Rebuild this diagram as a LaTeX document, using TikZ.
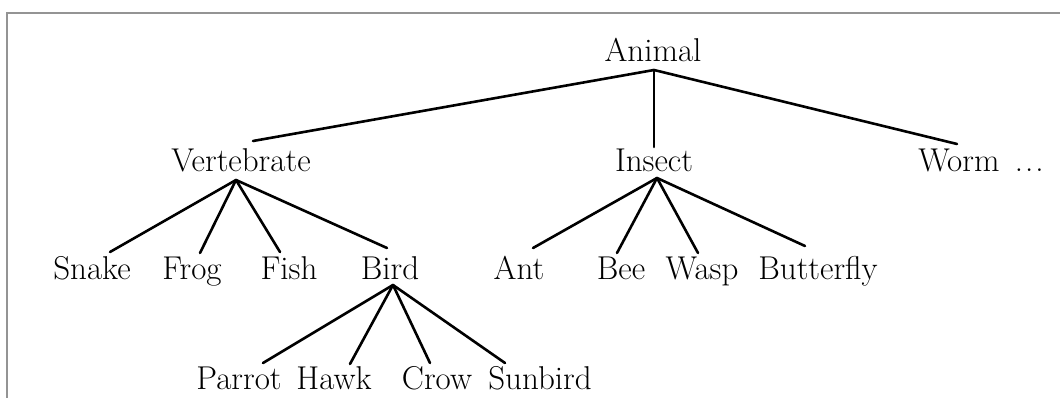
\documentclass[tikz,border=0pt]{standalone}
\begin{document}
\begin{tikzpicture}[x=1pt,y=-1pt,
  lbl/.style={anchor=base, inner sep=0pt, font=\fontsize{33}{38}\selectfont},
  edge/.style={line width=2.6pt, line cap=round},
  frame/.style={draw=black!42, line width=2pt}]
\useasboundingbox (0,0) rectangle (1060,398);
\draw[frame] (7,398) -- (7,13) -- (1060,13);

\node[lbl] (animal) at (653,62) {Animal};
\node[lbl] (vert) at (241,172) {Vertebrate};
\node[lbl] (insect) at (654,172) {Insect};
\node[lbl] (worm) at (981,172) {Worm\ \,.\kern2pt.\kern2pt.};

\node[lbl] (snake) at (92,279) {Snake};
\node[lbl] (frog) at (192,279) {Frog};
\node[lbl] (fish) at (289,279) {Fish};
\node[lbl] (bird) at (390,279) {Bird};
\node[lbl] (ant) at (519,279) {Ant};
\node[lbl] (bee) at (621,279) {Bee};
\node[lbl] (wasp) at (702,279) {Wasp};
\node[lbl] (butterfly) at (818,279) {Butterfly};

\node[lbl] (parrot) at (239,389) {Parrot};
\node[lbl] (hawk) at (334,389) {Hawk};
\node[lbl] (crow) at (437,389) {Crow};
\node[lbl] (sunbird) at (540,389) {Sunbird};

% Animal
\draw[edge] ([shift={(1,8)}]animal.base) -- ([shift={(12,-31)}]vert.base);
\draw[edge] ([shift={(1,8)}]animal.base) -- ([shift={(0,-25)}]insect.base);
\draw[edge] ([shift={(1,8)}]animal.base) -- ([shift={(-24,-28)}]worm.base);
% Vertebrate
\draw[edge] ([shift={(-5,8)}]vert.base) -- ([shift={(18,-27)}]snake.base);
\draw[edge] ([shift={(-5,8)}]vert.base) -- ([shift={(8,-26)}]frog.base);
\draw[edge] ([shift={(-5,8)}]vert.base) -- ([shift={(-9,-27)}]fish.base);
\draw[edge] ([shift={(-5,8)}]vert.base) -- ([shift={(-3,-31)}]bird.base);
% Insect
\draw[edge] ([shift={(3,6)}]insect.base) -- ([shift={(14,-31)}]ant.base);
\draw[edge] ([shift={(3,6)}]insect.base) -- ([shift={(-4,-26)}]bee.base);
\draw[edge] ([shift={(3,6)}]insect.base) -- ([shift={(-4,-26)}]wasp.base);
\draw[edge] ([shift={(3,6)}]insect.base) -- ([shift={(-13,-33)}]butterfly.base);
% Bird
\draw[edge] ([shift={(3,6)}]bird.base) -- ([shift={(24,-26)}]parrot.base);
\draw[edge] ([shift={(3,6)}]bird.base) -- ([shift={(16,-25)}]hawk.base);
\draw[edge] ([shift={(3,6)}]bird.base) -- ([shift={(-7,-26)}]crow.base);
\draw[edge] ([shift={(3,6)}]bird.base) -- ([shift={(-35,-26)}]sunbird.base);
\end{tikzpicture}
\end{document}
